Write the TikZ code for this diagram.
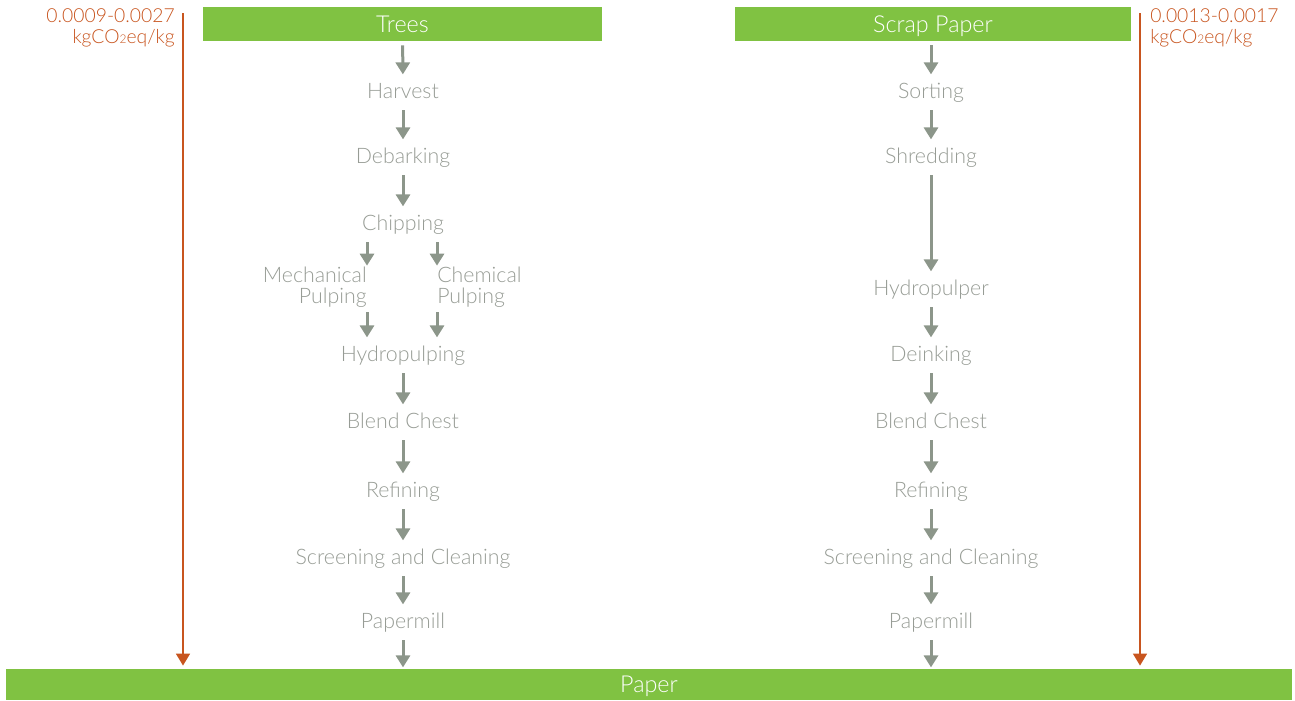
\documentclass[tikz,border=0pt]{standalone}
\usepackage{fontspec}
\IfFontExistsTF{Lato Light}{\setmainfont{Lato Light}}{\setmainfont{Lato}}
\usepackage{xcolor}
\usetikzlibrary{arrows.meta, positioning, calc}

\definecolor{leafgreen}{HTML}{80C242}
\definecolor{co2orange}{HTML}{C8551F}
\definecolor{stagegray}{HTML}{979C95}
\definecolor{arrowgray}{HTML}{8C968A}

\newcommand{\cotwo}{kgCO{\fontsize{9}{9}\selectfont 2}eq/kg}

\begin{document}
\begin{tikzpicture}[
    x=0.75pt, y=-0.75pt,
    bar/.style={fill=leafgreen, text=white, inner sep=0pt, minimum height=25.5pt, text height=12.5pt, text depth=0pt, font=\fontsize{17.5}{19}\selectfont},
    stage/.style={text=stagegray, inner sep=0pt, minimum height=22.5pt, text height=11.5pt, text depth=0pt, font=\fontsize{16}{18}\selectfont},
    twoline/.style={text=stagegray, inner sep=0pt, font=\fontsize{16}{15.75}\selectfont},
    flow/.style={-{Triangle[width=10.5pt, length=9pt]}, line width=2.25pt, draw=arrowgray, shorten <=3pt, shorten >=1pt},
    co2/.style={-{Triangle[width=10pt, length=9pt]}, line width=2.2pt, draw=co2orange, shorten >=2.25pt},
    co2text/.style={text=co2orange, inner sep=0pt, font=\fontsize{14.5}{15.75}\selectfont}
]
    \useasboundingbox (0,0) rectangle (1295,700);

    % Sources and product
    \node[bar, minimum width=299.25pt] (trees) at (402.5,24) {Trees};
    \node[bar, minimum width=297pt] (scrap) at (933,24) {Scrap Paper};
    \node[bar, minimum width=964.5pt, minimum height=23.25pt] (paper) at (649,684.5) {Paper};

    % Virgin fibre route
    \node[stage] (harvest) at (403,91) {Harvest};
    \node[stage] (debark) at (403,156) {Debarking};
    \node[stage] (chip) at (403,223) {Chipping};
    \node[twoline, align=right, anchor=east] (mech) at (367,287.5) {Mechanical\\Pulping};
    \node[twoline, align=left, anchor=west] (chem) at (437,287.5) {Chemical\\Pulping};
    \node[stage] (hydroL) at (403,354) {Hydropulping};
    \node[stage] (blendL) at (403,421) {Blend Chest};
    \node[stage] (refineL) at (403,490) {Refining};
    \node[stage] (screenL) at (403,557) {Screening and Cleaning};
    \node[stage] (millL) at (403,621) {Papermill};

    \draw[flow] (trees) -- (harvest);
    \draw[flow] (harvest) -- (debark);
    \draw[flow] (debark) -- (chip);
    \draw[flow] (chip.south -| mech.east) -- (mech.north east);
    \draw[flow] (chip.south -| chem.west) -- (chem.north west);
    \draw[flow] (mech.south east) -- (hydroL.north -| mech.east);
    \draw[flow] (chem.south west) -- (hydroL.north -| chem.west);
    \draw[flow] (hydroL) -- (blendL);
    \draw[flow] (blendL) -- (refineL);
    \draw[flow] (refineL) -- (screenL);
    \draw[flow] (screenL) -- (millL);
    \draw[flow] (millL) -- (paper.north -| millL);

    % Recycled fibre route
    \node[stage] (sort) at (931,91) {Sorting};
    \node[stage] (shred) at (931,156) {Shredding};
    \node[stage] (hydroR) at (931,288) {Hydropulper};
    \node[stage] (deink) at (931,354) {Deinking};
    \node[stage] (blendR) at (931,421) {Blend Chest};
    \node[stage] (refineR) at (931,490) {Refining};
    \node[stage] (screenR) at (931,557) {Screening and Cleaning};
    \node[stage] (millR) at (931,621) {Papermill};

    \draw[flow] (scrap.south -| sort) -- (sort);
    \draw[flow] (sort) -- (shred);
    \draw[flow] (shred) -- (hydroR);
    \draw[flow] (hydroR) -- (deink);
    \draw[flow] (deink) -- (blendR);
    \draw[flow] (blendR) -- (refineR);
    \draw[flow] (refineR) -- (screenR);
    \draw[flow] (screenR) -- (millR);
    \draw[flow] (millR) -- (paper.north -| millR);

    % Carbon footprints
    \coordinate (co2L) at (183,13);
    \coordinate (co2R) at (1140,13);
    \draw[co2] (co2L) -- (paper.north -| co2L);
    \draw[co2] (co2R) -- (paper.north -| co2R);
    \node[co2text, align=right, anchor=north east] (valL) at (175,8) {0.0009-0.0027\\\cotwo};
    \node[co2text, align=left, anchor=north west] (valR) at (1150,8) {0.0013-0.0017\\\cotwo};
\end{tikzpicture}
\end{document}
